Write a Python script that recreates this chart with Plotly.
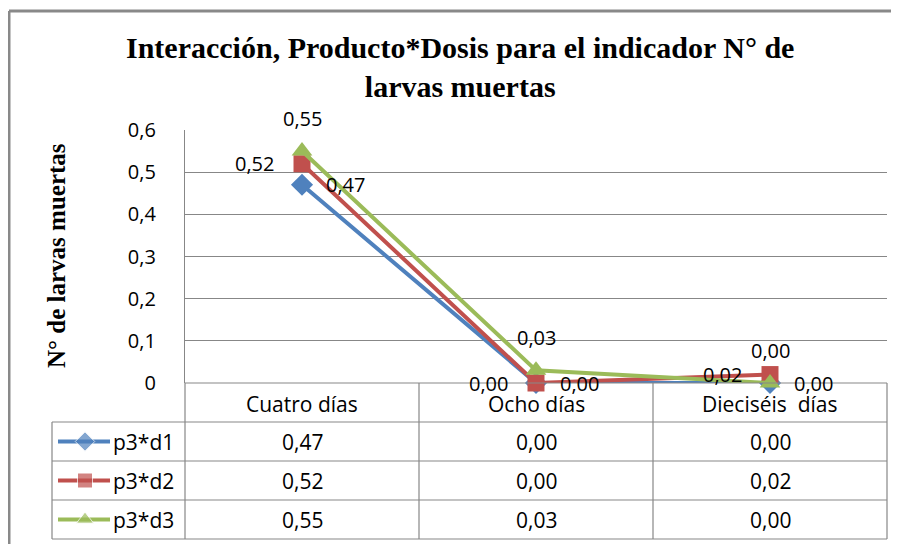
import plotly.graph_objects as go

# data
categories = ['Cuatro días', 'Ocho días', 'Dieciséis  días']
series_names = ['p3*d1', 'p3*d2', 'p3*d3']
p3_d1 = [0.47, 0.00, 0.00]
p3_d2 = [0.52, 0.00, 0.02]
p3_d3 = [0.55, 0.03, 0.00]
y_tickvals = [0, 0.1, 0.2, 0.3, 0.4, 0.5, 0.6]
y_ticktext = ['0', '0,1', '0,2', '0,3', '0,4', '0,5', '0,6']

title_text = 'Interacción, Producto*Dosis para el indicador N° de<br>larvas muertas'
ytitle_text = 'N° de larvas muertas'

# page puts the figure 8px in from the window corner; work in window pixels
OFF = 8
W, H = 899 - OFF, 544 - OFF
PL, PR, PT, PB = 185, 887, 130, 383   # plot area (window pixels)
ROWS = [383, 422, 461, 500, 539]      # table horizontal lines
TL = 52                               # table left edge

colors = ['#4F81BD', '#C0504D', '#9BBB59']
symbols = ['diamond', 'square', 'triangle-up']
msizes = [17, 17, 18]
# label placement per series: (xanchor, xshift, yshift)
label_pos = [('left', 22, 0), ('right', -26, 0), ('center', 0, 33)]
SANS = 'Open Sans'
SERIF = 'Liberation Serif'
GRID = '#878787'


def fmt(v):
    return f'{v:.2f}'.replace('.', ',')


def px(v):
    return v - OFF


fig = go.Figure()

all_series = [p3_d1, p3_d2, p3_d3]
for name, vals, c, sym, ms in zip(series_names, all_series, colors, symbols, msizes):
    fig.add_trace(go.Scatter(
        x=categories, y=vals, name=name, mode='lines+markers',
        line=dict(color=c, width=4),
        marker=dict(symbol=sym, size=ms, color=c),
        cliponaxis=False, showlegend=False,
    ))

# legend keys inside the data table (pixel axes)
for i, (c, sym) in enumerate(zip(colors, symbols)):
    yc = px((ROWS[i + 1] + ROWS[i + 2]) / 2)
    fig.add_trace(go.Scatter(
        x=[px(58), px(85), px(110)], y=[yc, yc, yc], mode='lines+markers',
        line=dict(color=c, width=4),
        marker=dict(symbol=sym, size=[0, 15, 0], color=c),
        xaxis='x2', yaxis='y2', showlegend=False, hoverinfo='skip',
    ))

shapes = []
# outer chart border
shapes.append(dict(type='line', xref='x2', yref='y2', x0=px(9), y0=px(11), x1=W, y1=px(11),
                   line=dict(color='#898989', width=3)))
shapes.append(dict(type='line', xref='x2', yref='y2', x0=px(9), y0=px(11), x1=px(9), y1=H,
                   line=dict(color='#898989', width=3)))
# table grid
for k, yv in enumerate(ROWS):
    x0 = PL if k == 0 else TL
    shapes.append(dict(type='line', xref='x2', yref='y2', x0=px(x0), y0=px(yv), x1=px(PR), y1=px(yv),
                       line=dict(color=GRID, width=1.2)))
colw = (PR - PL) / len(categories)
for j in range(len(categories) + 1):
    xv = PL + j * colw
    shapes.append(dict(type='line', xref='x2', yref='y2', x0=px(xv), y0=px(PB), x1=px(xv), y1=px(ROWS[-1]),
                       line=dict(color=GRID, width=1.2)))
shapes.append(dict(type='line', xref='x2', yref='y2', x0=px(TL), y0=px(ROWS[1]), x1=px(TL), y1=px(ROWS[-1]),
                   line=dict(color=GRID, width=1.2)))

annotations = []
annotations.append(dict(text='<b>' + title_text + '</b>', xref='x2', yref='y2', x=px(460), y=px(67),
                        showarrow=False, font=dict(family=SERIF, size=30, color='#000000'),
                        align='center'))
annotations.append(dict(text='<b>' + ytitle_text + '</b>', xref='x2', yref='y2', x=px(56), y=px(256),
                        showarrow=False, textangle=-90,
                        font=dict(family=SERIF, size=25, color='#000000')))
# data labels
for vals, (xa, xs, ys) in zip(all_series, label_pos):
    for cat, v in zip(categories, vals):
        annotations.append(dict(text=fmt(v), xref='x', yref='y', x=cat, y=v,
                                xanchor=xa, yanchor='middle', xshift=xs, yshift=ys,
                                showarrow=False, font=dict(family=SANS, size=20, color='#000000')))
# header row
for cat in categories:
    annotations.append(dict(text=cat, xref='x', yref='y2', x=cat, y=px((ROWS[0] + ROWS[1]) / 2 + 1),
                            showarrow=False, font=dict(family=SANS, size=21, color='#000000')))
# data rows
for i, (name, vals) in enumerate(zip(series_names, all_series)):
    yc = px((ROWS[i + 1] + ROWS[i + 2]) / 2)
    annotations.append(dict(text=name, xref='x2', yref='y2', x=px(111), y=yc, xanchor='left',
                            showarrow=False, font=dict(family=SANS, size=21, color='#000000')))
    for cat, v in zip(categories, vals):
        annotations.append(dict(text=fmt(v), xref='x', yref='y2', x=cat, y=yc,
                                showarrow=False, font=dict(family=SANS, size=21, color='#000000')))

fig.update_layout(
    width=W, height=H,
    margin=dict(l=0, r=0, t=0, b=0),
    paper_bgcolor='white', plot_bgcolor='rgba(0,0,0,0)',
    xaxis=dict(domain=[px(PL) / W, px(PR) / W], type='category', range=[-0.5, 2.5],
               showticklabels=False, showgrid=False, zeroline=False, automargin=False),
    yaxis=dict(domain=[1 - px(PB) / H, 1 - px(PT) / H], range=[0, 0.6],
               tickvals=y_tickvals, ticktext=y_ticktext,
               tickfont=dict(family=SANS, size=20, color='#000000'),
               ticks='outside', ticklen=0, ticklabelstandoff=24,
               showgrid=True, gridcolor=GRID, gridwidth=1.2,
               zeroline=False, showline=True, linecolor=GRID, linewidth=1.2,
               automargin=False),
    xaxis2=dict(domain=[0, 1], range=[0, W], visible=False, anchor='y2', fixedrange=True),
    yaxis2=dict(domain=[0, 1], range=[H, 0], visible=False, anchor='x2', fixedrange=True),
    shapes=shapes,
    annotations=annotations,
)

fig.write_html('out.html')
